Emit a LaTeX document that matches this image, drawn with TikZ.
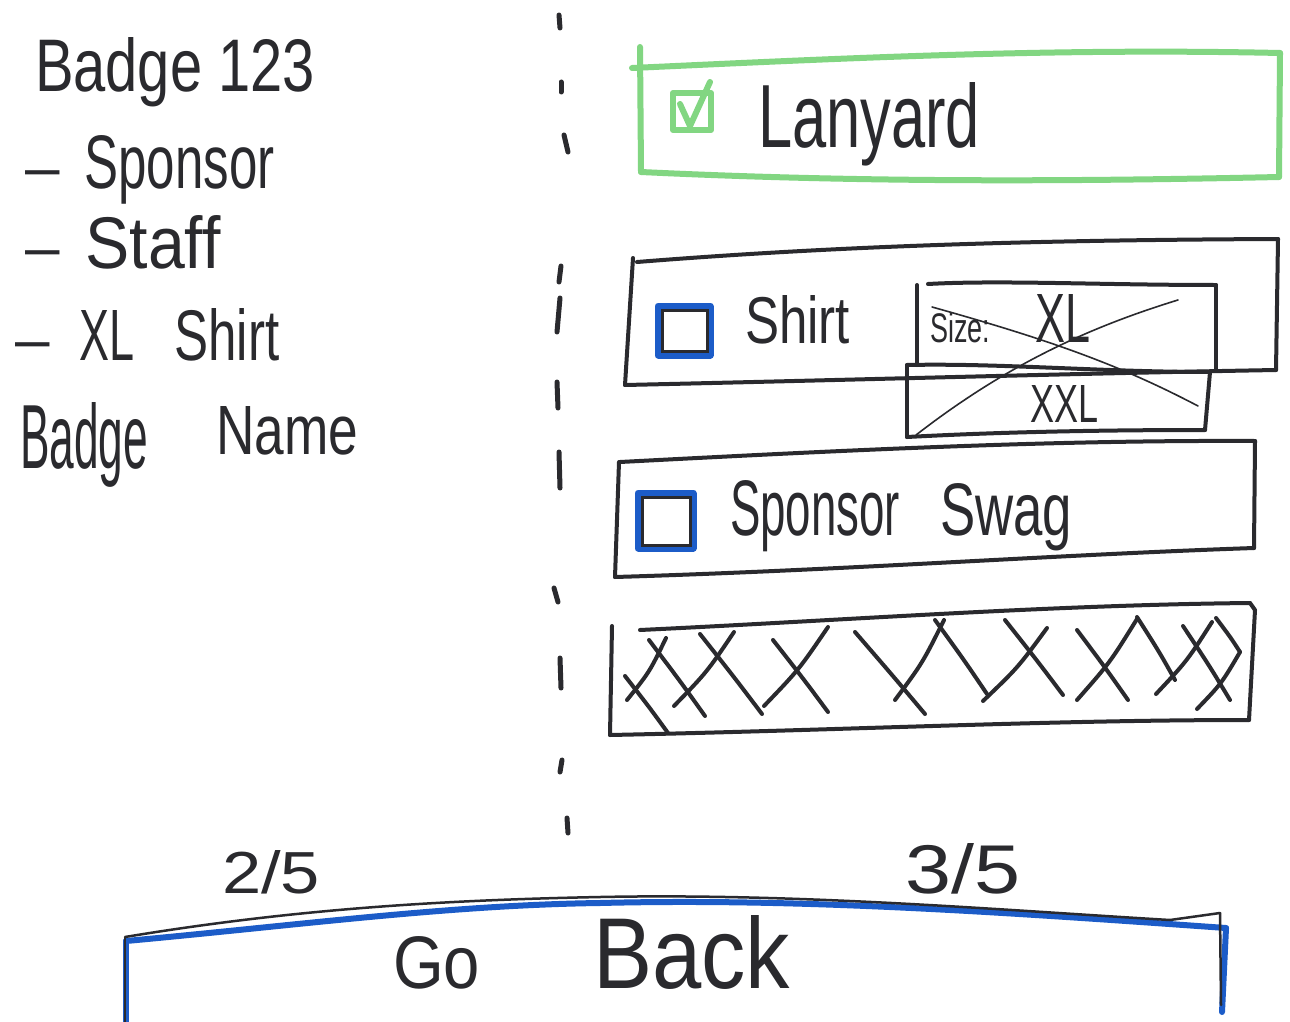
\documentclass[tikz,border=0pt]{standalone}
\usepackage{fontspec}
\usepackage{graphicx}
\usetikzlibrary{calc}
\setmainfont{Liberation Sans}
\definecolor{inkc}{RGB}{42,42,46}
\definecolor{greenc}{RGB}{130,214,130}
\definecolor{bluec}{RGB}{28,92,200}
\newcommand\hw[3]{\resizebox{#1pt}{#2pt}{\fontsize{40}{48}\selectfont #3}}
\newcommand\dsh{{\fontsize{62}{70}\selectfont –}}
\tikzset{
  ink/.style={draw=inkc, line width=4pt, line cap=round, line join=round},
  thinink/.style={draw=inkc, line width=1.6pt, line cap=round},
  grn/.style={draw=greenc, line width=6pt, line cap=round, line join=round},
  blu/.style={draw=bluec, line width=7pt, line cap=round, line join=round},
  txt/.style={inner sep=0pt, outer sep=0pt, text=inkc, anchor=base west},
  dashseg/.style={draw=inkc, line width=5pt, line cap=round}
}
\begin{document}
\begin{tikzpicture}[x=1pt,y=-1pt]
\useasboundingbox (0,0) rectangle (1290,1022);
\fill[white] (0,0) rectangle (1290,1022);

% left column texts
\node[txt] (badge) at (35,92) {\hw{280}{54}{Badge 123}};
\node[txt] (sponsor) at (25,188) {\dsh\hspace{25pt}\hw{190}{53}{Sponsor}};
\node[txt] (staff) at (25,268) {\dsh\hspace{26pt}\hw{135}{53}{Staff}};
\node[txt] (xlshirt) at (15,360) {\dsh\hspace{30pt}\hw{55}{50}{XL}\hspace{40pt}\hw{105}{52}{Shirt}};
\node[txt] (bname) at (20,468) {\hw{128}{66}{Badge}\hspace{68pt}\raisebox{14pt}{\hw{142}{48}{Name}}};

% dashed divider
\foreach \ya/\yb/\xa/\xb in {15/28/559/560, 82/92/561/561, 135/152/564/568, 266/282/561/559,
  298/332/560/557, 382/408/557/558, 452/488/559/560, 588/602/554/558,
  658/688/560/561, 760/772/562/560, 818/833/567/568}
  \draw[dashseg] (\xa,\ya) -- (\xb,\yb);

% Lanyard (selected)
\draw[grn] (632,68) .. controls (850,58) and (1050,48) .. (1280,53);
\draw[grn] (1280,53) -- (1279,177);
\draw[grn] (641,172) .. controls (850,182) and (1050,182) .. (1279,177);
\draw[grn] (640,47) -- (641,172);
\draw[grn] (673,93) rectangle (711,130);
\draw[grn] (680,104) -- (690,126) -- (710,82);
\node[txt] (lanyard) at (758,147) {\hw{222}{65}{Lanyard}};

% Shirt row
\draw[ink] (637,262) .. controls (850,245) and (1050,240) .. (1278,239);
\draw[ink] (1278,239) -- (1276,370);
\draw[ink] (625,385) .. controls (850,380) and (1050,374) .. (1276,370);
\draw[ink] (633,258) -- (625,385);
\draw[blu] (658,306) rectangle (710,355);
\draw[draw=inkc, line width=3pt] (662,310) rectangle (707,351);
\node[txt] (shirt) at (745,343) {\hw{105}{48}{Shirt}};

% size dropdown
\draw[ink] (917,285) -- (917,365);
\draw[ink] (928,284) .. controls (1000,280) and (1100,285) .. (1216,285);
\draw[ink] (1216,285) -- (1216,370);
\draw[ink] (907,365) .. controls (1000,363) and (1100,372) .. (1210,372);
\draw[ink] (907,365) -- (907,437);
\draw[ink] (907,437) .. controls (1000,432) and (1100,430) .. (1205,430);
\draw[ink] (1210,372) -- (1205,430);
\node[txt] (size) at (930,342) {\hw{60}{30}{Size:}\hspace{45pt}\hw{55}{48}{XL}};
\node[txt] (xxl) at (1030,422) {\hw{68}{37}{XXL}};
\draw[thinink] (932,307) .. controls (1050,340) and (1120,365) .. (1198,406);
\draw[thinink] (916,435) .. controls (1000,370) and (1080,330) .. (1178,300);

% Sponsor Swag row
\draw[ink] (620,462) .. controls (850,450) and (1050,440) .. (1255,441);
\draw[ink] (1255,441) -- (1254,548);
\draw[ink] (615,577) .. controls (850,570) and (1050,555) .. (1254,548);
\draw[ink] (619,462) -- (615,577);
\draw[blu] (638,493) rectangle (693,548);
\draw[draw=inkc, line width=3pt] (642,497) rectangle (690,545);
\node[txt] (swag) at (730,535) {\hw{170}{55}{Sponsor}\hspace{40pt}\hw{132}{52}{Swag}};

% placeholder row (crossed)
\draw[ink] (640,630) .. controls (850,620) and (1050,605) .. (1250,603);
\draw[ink] (1250,603) -- (1255,610) -- (1249,720);
\draw[ink] (610,735) .. controls (850,730) and (1050,720) .. (1249,720);
\draw[ink] (612,626) -- (610,735);
\foreach \xa/\ya/\xb/\yb in {
  625/676/668/733, 627/700/666/638, 649/640/705/716, 674/706/734/632,
  700/634/762/714, 764/706/828/627, 773/640/828/712, 855/632/925/714,
  895/700/944/620, 935/620/987/694, 983/701/1047/628, 1005/620/1063/695,
  1077/630/1128/700, 1077/700/1137/619, 1137/617/1175/680, 1156/694/1212/622,
  1183/626/1230/700, 1197/709/1240/652, 1216/618/1240/652}
  \draw[ink] (\xa,\ya) .. controls ($(\xa,\ya)!0.5!(\xb,\yb)+(3,3)$) .. (\xb,\yb);

% step indicators
\node[txt] (two) at (222,893) {\hw{98}{43}{2/5}};
\node[txt] (three) at (905,893) {\hw{115}{50}{3/5}};

% Go Back button
\draw[blu, line width=6pt] (126,941) .. controls (300,925) and (450,905) .. (600,903)
  .. controls (800,898) and (1000,912) .. (1226,928);
\draw[blu, line width=6pt] (126,941) -- (126,1022);
\draw[blu, line width=6pt] (1226,928) -- (1222,1012);
\draw[draw=inkc, line width=2.5pt, line cap=round] (125,937) .. controls (300,908) and (450,900) .. (600,897)
  .. controls (800,893) and (1000,910) .. (1170,920) -- (1220,913);
\draw[draw=inkc, line width=2.5pt] (125,937) -- (125,1022);
\draw[draw=inkc, line width=2.5pt, line cap=round] (1220,913) -- (1221,1005);
\node[txt] (goback) at (393,988) {\hw{87}{52}{Go}\hspace{113pt}\hw{197}{73}{Back}};
\end{tikzpicture}
\end{document}
